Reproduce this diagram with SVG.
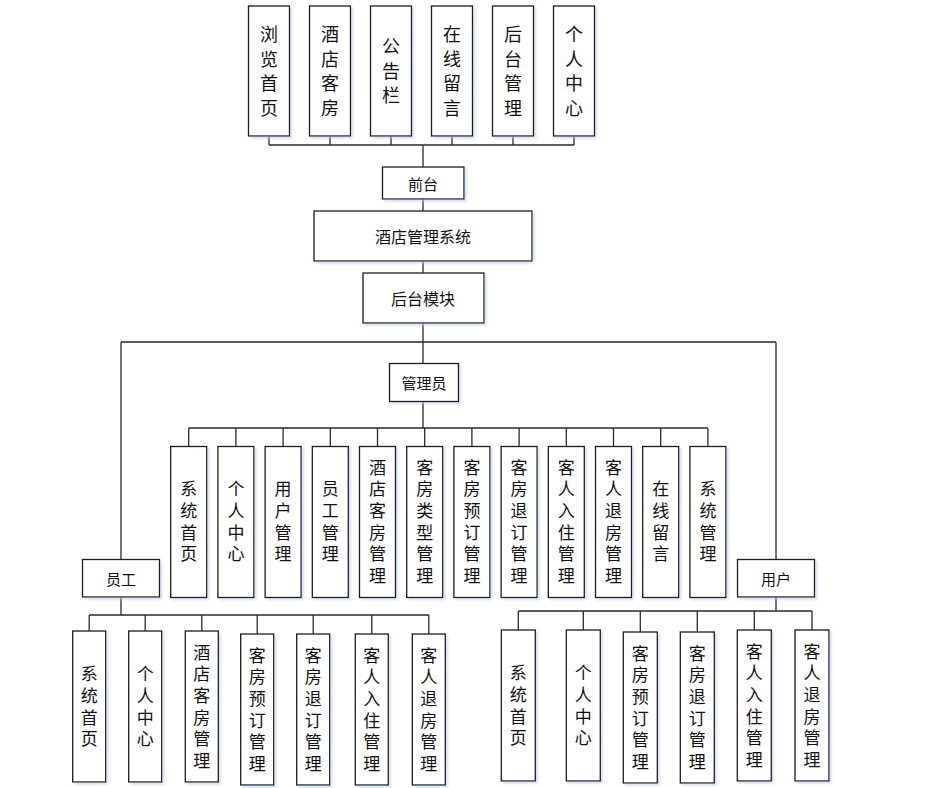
<svg xmlns="http://www.w3.org/2000/svg" width="933" height="788" viewBox="0 0 933 788">
<defs>
<style>
.b{fill:#fff;stroke:#1a1a1a;stroke-width:1.3;filter:url(#sh)}
.l{fill:none;stroke:#2a2a2a;stroke-width:1.3}
.t{font-family:"Noto Sans CJK SC","Noto Sans",sans-serif;fill:#111;text-anchor:middle;dominant-baseline:central}
.h{font-size:15px}
.v18{font-size:18px;writing-mode:vertical-rl;letter-spacing:6.5px}
.v17{font-size:17px;writing-mode:vertical-rl;letter-spacing:4.7px}
</style>
<filter id="sh" x="-20%" y="-20%" width="140%" height="140%">
<feDropShadow dx="2" dy="2" stdDeviation="1.2" flood-color="#b8cbe8" flood-opacity="0.6"/>
</filter>
</defs>
<rect width="933" height="788" fill="#fff"/>

<g id="connectors">
<path class="l" d="M269 136V145M330 136V145M391 136V145M452 136V145M513 136V145M574 136V145M269 145H574M423 145V167"/>
<path class="l" d="M423 199V211M423 261V273M423 323V363"/>
<path class="l" d="M121 342H776M121 342V559M776 342V559"/>
<path class="l" d="M423 401V428M188.7 428H707.9M188.7 428V446.5M235.9 428V446.5M283.1 428V446.5M330.3 428V446.5M377.5 428V446.5M424.7 428V446.5M471.9 428V446.5M519.1 428V446.5M566.3 428V446.5M613.5 428V446.5M660.7 428V446.5M707.9 428V446.5"/>
<path class="l" d="M121 597V615M89.2 615H428.8M89.2 615V631M145.2 615V631M201.8 615V631M257.2 615V634M313.2 615V634M371.8 615V634M428.8 615V634"/>
<path class="l" d="M776 597V611M518.3 611H812M518.3 611V630M583.3 611V630M640.3 611V632M697.3 611V632M754.3 611V630M812 611V630"/>
</g>

<g id="top-1"><rect class="b" x="248.5" y="6" width="41" height="130"/><text class="t v18" x="269" y="74.25">浏览首页</text></g>
<g id="top-2"><rect class="b" x="309.5" y="6" width="41" height="130"/><text class="t v18" x="330" y="74.25">酒店客房</text></g>
<g id="top-3"><rect class="b" x="370.5" y="6" width="41" height="130"/><text class="t v18" x="391" y="74.25">公告栏</text></g>
<g id="top-4"><rect class="b" x="431.5" y="6" width="41" height="130"/><text class="t v18" x="452" y="74.25">在线留言</text></g>
<g id="top-5"><rect class="b" x="492.5" y="6" width="41" height="130"/><text class="t v18" x="513" y="74.25">后台管理</text></g>
<g id="top-6"><rect class="b" x="553.5" y="6" width="41" height="130"/><text class="t v18" x="574" y="74.25">个人中心</text></g>

<g id="qiantai"><rect class="b" x="382.5" y="167" width="81.5" height="32"/><text class="t h" x="423" y="183">前台</text></g>
<g id="system"><rect class="b" x="314" y="211" width="218" height="50"/><text class="t" style="font-size:16px" x="423" y="236">酒店管理系统</text></g>
<g id="houtai"><rect class="b" x="363" y="273" width="121" height="50"/><text class="t" style="font-size:16px" x="423" y="298">后台模块</text></g>
<g id="admin"><rect class="b" x="389.5" y="363.5" width="69" height="38"/><text class="t h" x="424" y="382.5">管理员</text></g>
<g id="staff"><rect class="b" x="82.5" y="559.5" width="77" height="37.5"/><text class="t h" x="121" y="578">员工</text></g>
<g id="user"><rect class="b" x="737.5" y="559.5" width="77" height="37.5"/><text class="t h" x="776" y="578">用户</text></g>

<g id="admin-1"><rect class="b" x="170.7" y="446.5" width="36" height="151"/><text class="t v17" x="188.7" y="523.85">系统首页</text></g>
<g id="admin-2"><rect class="b" x="217.9" y="446.5" width="36" height="151"/><text class="t v17" x="235.9" y="523.85">个人中心</text></g>
<g id="admin-3"><rect class="b" x="265.1" y="446.5" width="36" height="151"/><text class="t v17" x="283.1" y="523.85">用户管理</text></g>
<g id="admin-4"><rect class="b" x="312.3" y="446.5" width="36" height="151"/><text class="t v17" x="330.3" y="523.85">员工管理</text></g>
<g id="admin-5"><rect class="b" x="359.5" y="446.5" width="36" height="151"/><text class="t v17" x="377.5" y="523.85">酒店客房管理</text></g>
<g id="admin-6"><rect class="b" x="406.7" y="446.5" width="36" height="151"/><text class="t v17" x="424.7" y="523.85">客房类型管理</text></g>
<g id="admin-7"><rect class="b" x="453.9" y="446.5" width="36" height="151"/><text class="t v17" x="471.9" y="523.85">客房预订管理</text></g>
<g id="admin-8"><rect class="b" x="501.1" y="446.5" width="36" height="151"/><text class="t v17" x="519.1" y="523.85">客房退订管理</text></g>
<g id="admin-9"><rect class="b" x="548.3" y="446.5" width="36" height="151"/><text class="t v17" x="566.3" y="523.85">客人入住管理</text></g>
<g id="admin-10"><rect class="b" x="595.5" y="446.5" width="36" height="151"/><text class="t v17" x="613.5" y="523.85">客人退房管理</text></g>
<g id="admin-11"><rect class="b" x="642.7" y="446.5" width="36" height="151"/><text class="t v17" x="660.7" y="523.85">在线留言</text></g>
<g id="admin-12"><rect class="b" x="689.9" y="446.5" width="36" height="151"/><text class="t v17" x="707.9" y="523.85">系统管理</text></g>

<g id="staff-1"><rect class="b" x="72.7" y="631" width="33" height="151"/><text class="t v17" x="89.2" y="708.85">系统首页</text></g>
<g id="staff-2"><rect class="b" x="128.7" y="631" width="33" height="151"/><text class="t v17" x="145.2" y="708.85">个人中心</text></g>
<g id="staff-3"><rect class="b" x="185.3" y="631" width="33" height="151"/><text class="t v17" x="201.8" y="708.85">酒店客房管理</text></g>
<g id="staff-4"><rect class="b" x="240.7" y="634" width="33" height="151"/><text class="t v17" x="257.2" y="711.85">客房预订管理</text></g>
<g id="staff-5"><rect class="b" x="296.7" y="634" width="33" height="151"/><text class="t v17" x="313.2" y="711.85">客房退订管理</text></g>
<g id="staff-6"><rect class="b" x="355.3" y="634" width="33" height="151"/><text class="t v17" x="371.8" y="711.85">客人入住管理</text></g>
<g id="staff-7"><rect class="b" x="412.3" y="634" width="33" height="151"/><text class="t v17" x="428.8" y="711.85">客人退房管理</text></g>

<g id="user-1"><rect class="b" x="501.3" y="630" width="34" height="151"/><text class="t v17" x="518.3" y="707.85">系统首页</text></g>
<g id="user-2"><rect class="b" x="566.3" y="630" width="34" height="151"/><text class="t v17" x="583.3" y="707.85">个人中心</text></g>
<g id="user-3"><rect class="b" x="623.3" y="632" width="34" height="151"/><text class="t v17" x="640.3" y="709.85">客房预订管理</text></g>
<g id="user-4"><rect class="b" x="680.3" y="632" width="34" height="151"/><text class="t v17" x="697.3" y="709.85">客房退订管理</text></g>
<g id="user-5"><rect class="b" x="737.3" y="630" width="34" height="151"/><text class="t v17" x="754.3" y="707.85">客人入住管理</text></g>
<g id="user-6"><rect class="b" x="795" y="630" width="34" height="151"/><text class="t v17" x="812" y="707.85">客人退房管理</text></g>
</svg>
